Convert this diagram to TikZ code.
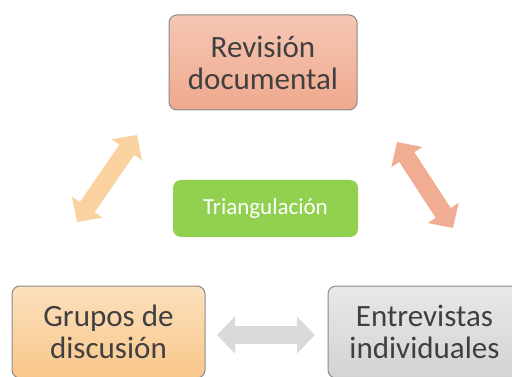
\documentclass[tikz,border=0pt]{standalone}
\usepackage{fontspec}
\setmainfont{Carlito}
\usetikzlibrary{arrows.meta}
\definecolor{boxgray}{HTML}{8A8A8A}
\definecolor{textgray}{HTML}{404040}
\definecolor{revtop}{HTML}{F5C7B4}
\definecolor{revbot}{HTML}{EFA88D}
\definecolor{grutop}{HTML}{FCE0BD}
\definecolor{grubot}{HTML}{F8C68A}
\definecolor{enttop}{HTML}{E8E8E8}
\definecolor{entbot}{HTML}{D3D3D3}
\definecolor{trigreen}{HTML}{92D050}
\definecolor{arrleft}{HTML}{F9D2A0}
\definecolor{arrright}{HTML}{F0AD94}
\definecolor{arrgray}{HTML}{DADADA}

\begin{document}
\begin{tikzpicture}[x=1pt, y=-1pt,
    box/.style={rectangle, rounded corners=8pt, draw=boxgray, line width=1pt, align=center,
      text=textgray, font=\fontsize{31}{32}\selectfont},
    link/.style={line width=18pt, {Triangle[width=36pt,length=18pt]}-{Triangle[width=36pt,length=18pt]}}]
    \clip (0,0) rectangle (512,377);

    \node[box, top color=revtop, bottom color=revbot, minimum width=188pt, minimum height=95pt] (rev) at (263,62.5) {Revisión\\documental};
    \node[box, top color=grutop, bottom color=grubot, minimum width=193pt, minimum height=92pt] (gru) at (108.5,332) {Grupos de\\discusión};
    \node[box, top color=enttop, bottom color=entbot, minimum width=193pt, minimum height=92pt] (ent) at (424.5,332) {Entrevistas\\individuales};
    \node[rectangle, rounded corners=8pt, fill=trigreen, text=white, minimum width=185pt, minimum height=57pt,
      font=\fontsize{23}{25}\selectfont] (tri) at (265.5,208.5) {Triangulación};

    \coordinate (l1) at (77,222);
    \coordinate (l2) at (137,135);
    \coordinate (r1) at (397,142);
    \coordinate (r2) at (453,228);
    \coordinate (h1) at (217,335);
    \coordinate (h2) at (315,335);

    \draw[link, arrleft] (l1) -- (l2);
    \draw[link, arrright] (r1) -- (r2);
    \draw[link, arrgray] (h1) -- (h2);
\end{tikzpicture}
\end{document}
